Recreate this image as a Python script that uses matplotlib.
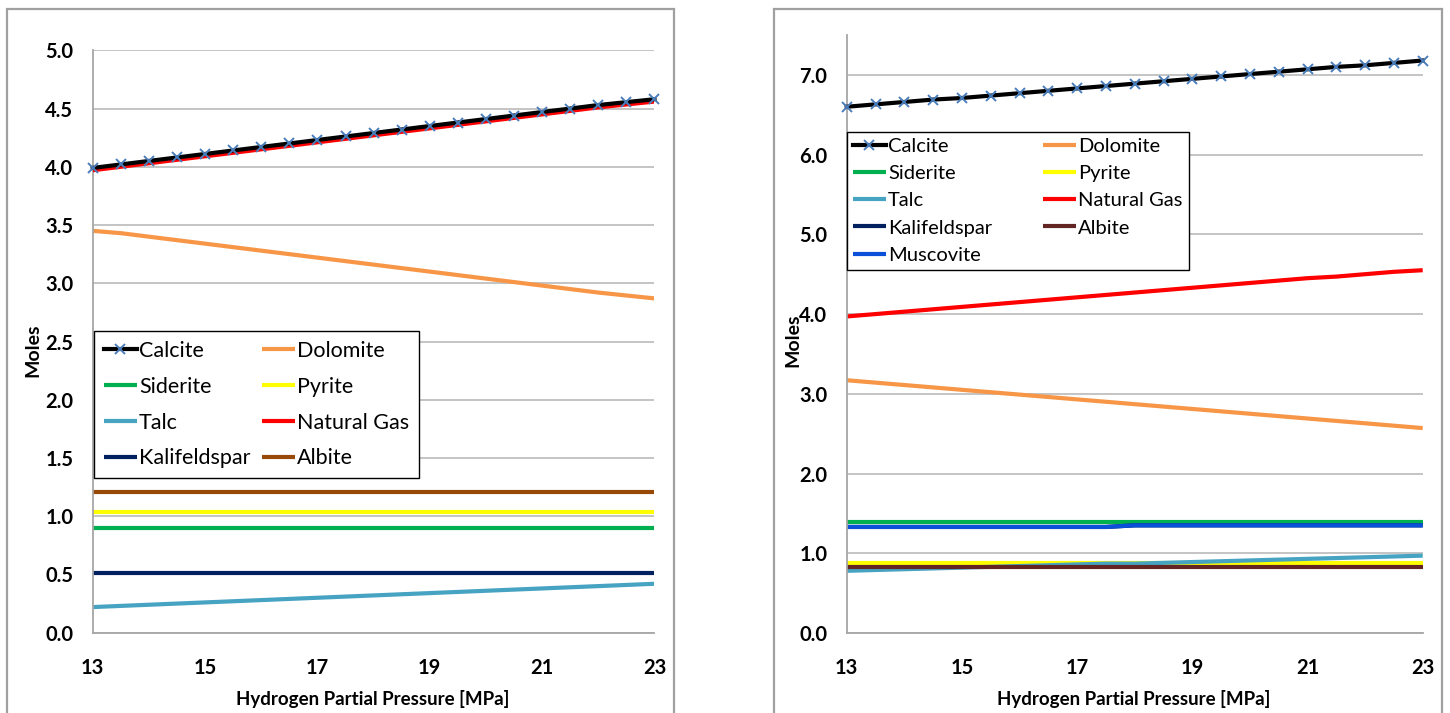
import matplotlib
matplotlib.use("Agg")
import matplotlib.pyplot as plt
from matplotlib.patches import Rectangle

plt.rcParams['font.family'] = ['Lato', 'DejaVu Sans']

# ---------------- data ----------------
pressure = [13.0, 13.5, 14.0, 14.5, 15.0, 15.5, 16.0, 16.5, 17.0, 17.5, 18.0,
            18.5, 19.0, 19.5, 20.0, 20.5, 21.0, 21.5, 22.0, 22.5, 23.0]

# Left chart
L_calcite = [3.99, 4.02, 4.05, 4.08, 4.11, 4.14, 4.17, 4.20, 4.23, 4.26, 4.29,
             4.32, 4.35, 4.38, 4.41, 4.44, 4.47, 4.50, 4.53, 4.555, 4.58]
L_dolomite = [3.45, 3.43, 3.40, 3.37, 3.34, 3.31, 3.28, 3.25, 3.22, 3.19, 3.16,
              3.13, 3.10, 3.07, 3.04, 3.01, 2.98, 2.95, 2.92, 2.895, 2.87]
L_siderite = [0.90] * 21
L_pyrite = [1.04] * 21
L_talc = [0.22, 0.23, 0.24, 0.25, 0.26, 0.27, 0.28, 0.29, 0.30, 0.31, 0.32,
          0.33, 0.34, 0.35, 0.36, 0.37, 0.38, 0.39, 0.40, 0.41, 0.42]
L_natgas = [3.97, 4.00, 4.03, 4.06, 4.09, 4.12, 4.15, 4.18, 4.21, 4.24, 4.27,
            4.30, 4.33, 4.36, 4.39, 4.42, 4.45, 4.48, 4.51, 4.535, 4.56]
L_kalifeldspar = [0.51] * 21
L_albite = [1.21] * 21

# Right chart
R_calcite = [6.60, 6.63, 6.66, 6.69, 6.71, 6.74, 6.77, 6.80, 6.83, 6.86, 6.89,
             6.92, 6.95, 6.98, 7.01, 7.04, 7.07, 7.10, 7.12, 7.15, 7.18]
R_dolomite = [3.17, 3.14, 3.11, 3.08, 3.05, 3.02, 2.99, 2.96, 2.93, 2.90, 2.87,
              2.84, 2.81, 2.78, 2.75, 2.72, 2.69, 2.66, 2.63, 2.60, 2.57]
R_siderite = [1.39] * 21
R_pyrite = [0.88] * 21
R_talc = [0.78, 0.79, 0.80, 0.81, 0.82, 0.83, 0.84, 0.85, 0.86, 0.87, 0.87,
          0.88, 0.89, 0.90, 0.91, 0.92, 0.93, 0.94, 0.95, 0.96, 0.97]
R_natgas = [3.97, 4.00, 4.03, 4.06, 4.09, 4.12, 4.15, 4.18, 4.21, 4.24, 4.27,
            4.30, 4.33, 4.36, 4.39, 4.42, 4.45, 4.47, 4.50, 4.53, 4.55]
R_kalifeldspar = [1.33] * 10 + [1.35] * 11
R_albite = [0.83] * 21
R_muscovite = [1.33] * 10 + [1.35] * 11

xticks = [13, 15, 17, 19, 21, 23]
L_yticks = [0.0, 0.5, 1.0, 1.5, 2.0, 2.5, 3.0, 3.5, 4.0, 4.5, 5.0]
R_yticks = [0.0, 1.0, 2.0, 3.0, 4.0, 5.0, 6.0, 7.0]

# ---------------- style ----------------
C = {
    'Calcite': 'black', 'Dolomite': '#f79646', 'Siderite': '#00b050',
    'Pyrite': '#ffff00', 'Talc': '#46a3c2', 'Natural Gas': '#ff0000',
    'Kalifeldspar': '#002060', 'Muscovite': '#0a50d8',
}
LW = 3.0
W, H = 1450, 713

fig = plt.figure(figsize=(W / 100, H / 100), dpi=100)

# outer frames of the two chart objects
for x0, x1 in [(7, 674), (774, 1442)]:
    fig.add_artist(Rectangle((x0 / W, -0.05), (x1 - x0) / W, 0.05 + 1 - 9 / H,
                             transform=fig.transFigure, fill=False,
                             edgecolor='#a0a0a0', linewidth=1.6))


def px_axes(x0, x1, ytop, ybot):
    return fig.add_axes([x0 / W, 1 - ybot / H, (x1 - x0) / W, (ybot - ytop) / H])


axL = px_axes(92.7, 654.5, 50.3, 632.7)
axR = px_axes(846.7, 1422.7, 35, 633)


def style(ax, ylim, yticks):
    ax.set_xlim(13, 23)
    ax.set_ylim(*ylim)
    ax.set_xticks(xticks)
    ax.set_yticks(yticks)
    ax.set_yticklabels([f"{v:.1f}" for v in yticks])
    ax.set_xticklabels([str(v) for v in xticks])
    ax.grid(axis='y', color='#bfbfbf', linewidth=1.3)
    ax.set_axisbelow(True)
    for s in ['top', 'right']:
        ax.spines[s].set_visible(False)
    for s in ['left', 'bottom']:
        ax.spines[s].set_color('#a6a6a6')
        ax.spines[s].set_linewidth(1.3)
    ax.tick_params(axis='both', length=0, labelsize=14.5, colors='black')
    ax.tick_params(axis='y', pad=14)
    ax.tick_params(axis='x', pad=18)
    for t in ax.get_xticklabels() + ax.get_yticklabels():
        t.set_fontweight('bold')


def plot_series(ax, name, y, color, z=2, marker=False):
    if marker:
        return ax.plot(pressure, y, color=color, lw=LW, marker='x', ms=7,
                       mec='#4a7ebb', mew=1.4, label=name, zorder=z,
                       clip_on=False)[0]
    return ax.plot(pressure, y, color=color, lw=LW, label=name, zorder=z,
                   solid_capstyle='butt')[0]


# ---- left chart ----
style(axL, (0, 5), L_yticks)
h = {}
h['Calcite'] = plot_series(axL, 'Calcite', L_calcite, C['Calcite'], z=3, marker=True)
h['Dolomite'] = plot_series(axL, 'Dolomite', L_dolomite, C['Dolomite'])
h['Siderite'] = plot_series(axL, 'Siderite', L_siderite, C['Siderite'])
h['Pyrite'] = plot_series(axL, 'Pyrite', L_pyrite, C['Pyrite'])
h['Talc'] = plot_series(axL, 'Talc', L_talc, C['Talc'])
h['Natural Gas'] = plot_series(axL, 'Natural Gas', L_natgas, C['Natural Gas'], z=2.9)
h['Kalifeldspar'] = plot_series(axL, 'Kalifeldspar', L_kalifeldspar, C['Kalifeldspar'])
h['Albite'] = plot_series(axL, 'Albite', L_albite, '#984807')
orderL = ['Calcite', 'Siderite', 'Talc', 'Kalifeldspar',
          'Dolomite', 'Pyrite', 'Natural Gas', 'Albite']
legL = axL.legend([h[k] for k in orderL], orderL, ncol=2, loc='upper left',
                  bbox_to_anchor=(0.002, 0.267, 0.579, 0.251), mode='expand',
                  borderaxespad=0, fontsize=15.5, handlelength=1.55,
                  handletextpad=0.1, labelspacing=0.74, borderpad=0.45,
                  fancybox=False, framealpha=1, edgecolor='black')
legL.get_frame().set_linewidth(1.0)

# ---- right chart ----
style(axR, (0, 7.5), R_yticks)
g = {}
g['Calcite'] = plot_series(axR, 'Calcite', R_calcite, C['Calcite'], z=3, marker=True)
g['Dolomite'] = plot_series(axR, 'Dolomite', R_dolomite, C['Dolomite'])
g['Siderite'] = plot_series(axR, 'Siderite', R_siderite, C['Siderite'])
g['Pyrite'] = plot_series(axR, 'Pyrite', R_pyrite, C['Pyrite'])
g['Talc'] = plot_series(axR, 'Talc', R_talc, C['Talc'])
g['Natural Gas'] = plot_series(axR, 'Natural Gas', R_natgas, C['Natural Gas'])
g['Kalifeldspar'] = plot_series(axR, 'Kalifeldspar', R_kalifeldspar, C['Kalifeldspar'])
g['Albite'] = plot_series(axR, 'Albite', R_albite, '#632523')
g['Muscovite'] = plot_series(axR, 'Muscovite', R_muscovite, C['Muscovite'])
orderR = ['Calcite', 'Siderite', 'Talc', 'Kalifeldspar', 'Muscovite',
          'Dolomite', 'Pyrite', 'Natural Gas', 'Albite']
legR = axR.legend([g[k] for k in orderR], orderR, ncol=2, loc='upper left',
                  bbox_to_anchor=(0.0, 0.607, 0.594, 0.231), mode='expand',
                  borderaxespad=0, fontsize=14.5, handlelength=1.65,
                  handletextpad=0.1, labelspacing=0.5, borderpad=0.3,
                  fancybox=False, framealpha=1, edgecolor='black')
legR.get_frame().set_linewidth(1.0)

# ---- axis titles ----
for xc, yc in [(33, 350), (793, 340)]:
    fig.text(xc / W, 1 - yc / H, 'Moles', rotation=90, ha='center', va='center',
             fontsize=14, fontweight='bold')
for xc in [373, 1134]:
    fig.text(xc / W, 1 - 699 / H, 'Hydrogen Partial Pressure [MPa]', ha='center',
             va='center', fontsize=13.5, fontweight='bold')

fig.savefig('out.png', dpi=100, facecolor='white')
